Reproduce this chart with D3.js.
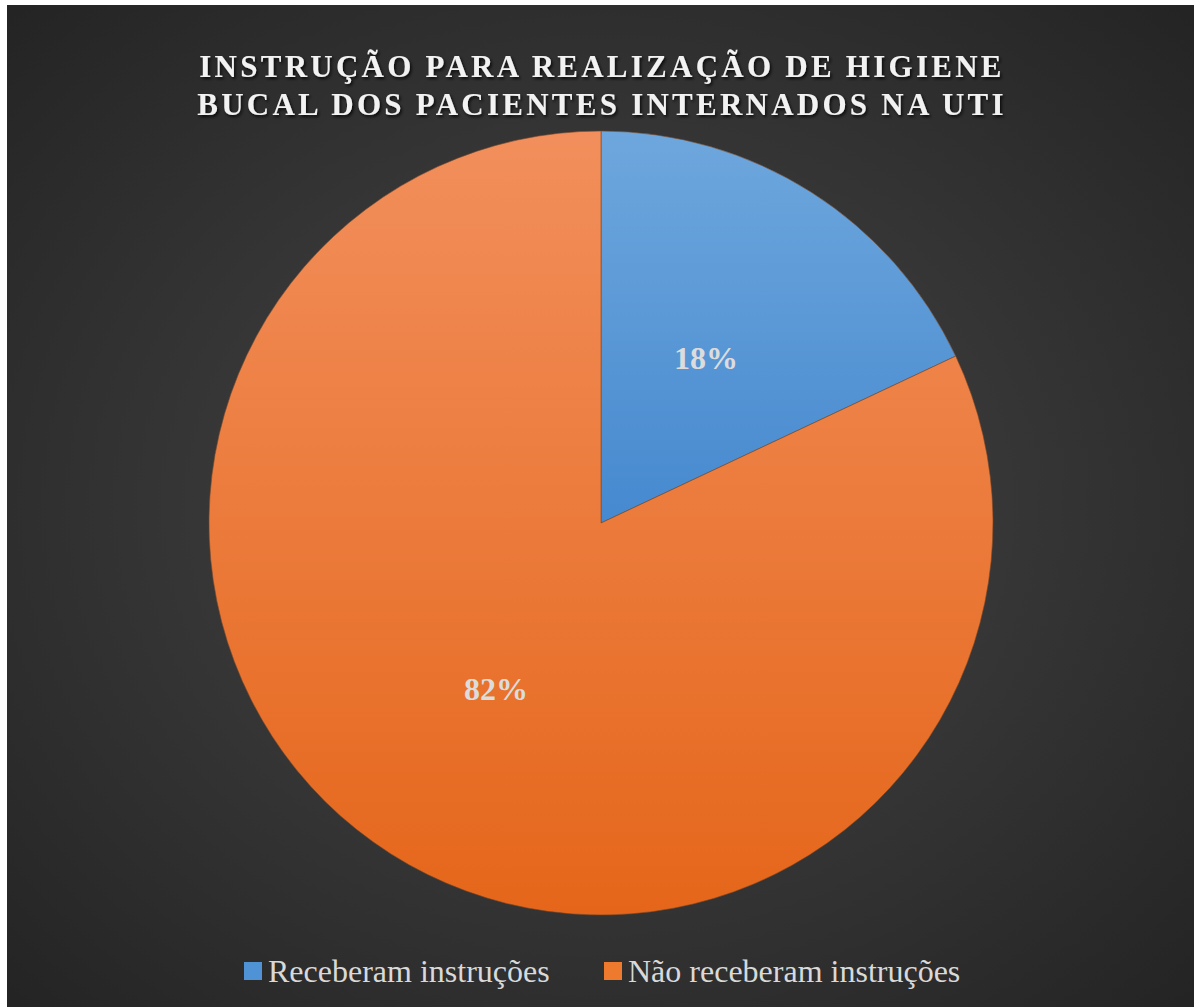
<!DOCTYPE html>
<html><head><meta charset="utf-8">
<script src="https://cdn.jsdelivr.net/npm/d3@7"></script>
<style>html,body{margin:0;padding:0;background:#fff;}svg{display:block;}</style>
</head><body>
<svg id="c" width="1194" height="1007"></svg>
<script>
const categories = ["Receberam instruções", "Não receberam instruções"];
const values = [18, 82];
const labels = ["18%", "82%"];
const titleLines = ["INSTRUÇÃO PARA REALIZAÇÃO DE HIGIENE", "BUCAL DOS PACIENTES INTERNADOS NA UTI"];

const svg = d3.select("#c");
const W = 1194, H = 1007;
const defs = svg.append("defs");

const bg = defs.append("radialGradient").attr("id","bg").attr("cx","50%").attr("cy","50%").attr("r","70%");
bg.append("stop").attr("offset","0%").attr("stop-color","#474747");
bg.append("stop").attr("offset","100%").attr("stop-color","#242424");

const sh = defs.append("filter").attr("id","ts").attr("x","-10%").attr("y","-30%").attr("width","120%").attr("height","160%");
sh.append("feDropShadow").attr("dx",1.5).attr("dy",2).attr("stdDeviation",1.5).attr("flood-color","#000").attr("flood-opacity",0.8);

svg.append("rect").attr("x",7).attr("y",5).attr("width",W-7).attr("height",H-5).attr("fill","url(#bg)");

const cx = 601, cy = 523, r = 392;
const gradStops = [["#6ea7dd","#4689cf"],["#f28f5c","#e5661a"]];
gradStops.forEach((g,i)=>{
  const lg = defs.append("linearGradient").attr("id","g"+i).attr("gradientUnits","userSpaceOnUse")
    .attr("x1",0).attr("y1",-r).attr("x2",0).attr("y2",r);
  lg.append("stop").attr("offset","0%").attr("stop-color",g[0]);
  lg.append("stop").attr("offset","100%").attr("stop-color",g[1]);
});
defs.select("#g0").attr("y2", 0);

const color = d3.scaleOrdinal().domain(categories).range(["url(#g0)","url(#g1)"]);
const legendColor = d3.scaleOrdinal().domain(categories).range(["#4f93d6","#ee7a2e"]);

const pie = d3.pie().sort(null).value(d=>d.v);
const arcs = pie(categories.map((c,i)=>({c, v:values[i], l:labels[i]})));
const arc = d3.arc().innerRadius(0).outerRadius(r);

const g = svg.append("g").attr("transform",`translate(${cx},${cy})`);
g.selectAll("path").data(arcs).join("path")
  .attr("d",arc).attr("fill",d=>color(d.data.c))
  .attr("stroke","#7a4a2a").attr("stroke-width",1).attr("stroke-opacity",0.6);

g.selectAll("text").data(arcs).join("text")
  .attr("transform",d=>`translate(${arc.centroid(d)})`)
  .attr("text-anchor","middle").attr("dy","0.35em")
  .attr("font-family","'Liberation Serif', 'Times New Roman', serif")
  .attr("font-weight","bold").attr("font-size",32).attr("fill","#dcdcdc")
  .text(d=>d.data.l);

svg.append("g").selectAll("text").data(titleLines).join("text")
  .attr("x",602).attr("y",(d,i)=>77+i*38)
  .attr("text-anchor","middle")
  .attr("font-family","'Liberation Serif', 'Times New Roman', serif")
  .attr("font-weight","bold").attr("font-size",31).attr("letter-spacing",3.25)
  .attr("fill","#f2f2f2").attr("filter","url(#ts)")
  .text(d=>d);

const legX = [244, 604];
const lg = svg.append("g").selectAll("g").data(categories).join("g")
  .attr("transform",(d,i)=>`translate(${legX[i]},962)`);
lg.append("rect").attr("width",18).attr("height",18).attr("fill",d=>legendColor(d));
lg.append("text").attr("x",24).attr("y",20)
  .attr("font-family","'Liberation Serif', 'Times New Roman', serif")
  .attr("font-size",32).attr("fill","#d9d9d9").text(d=>d);
</script>
</body></html>
